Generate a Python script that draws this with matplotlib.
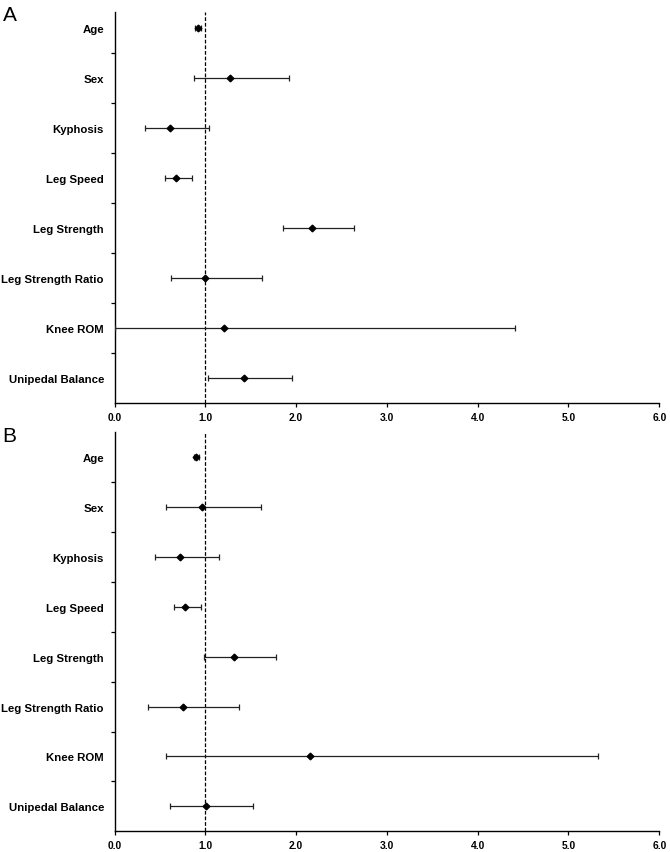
import numpy as np
import matplotlib
matplotlib.use('Agg')
import matplotlib.pyplot as plt
from matplotlib.ticker import FixedLocator

plt.rcParams['font.family'] = ['Liberation Sans', 'DejaVu Sans']

factors = ['Age', 'Sex', 'Kyphosis', 'Leg Speed', 'Leg Strength',
           'Leg Strength Ratio', 'Knee ROM', 'Unipedal Balance']

# odds ratio with lower / upper limits
or_a = [0.92, 1.27, 0.61, 0.68, 2.18, 1.00, 1.21, 1.43]
lo_a = [0.89, 0.88, 0.33, 0.55, 1.86, 0.62, 0.00, 1.03]
hi_a = [0.95, 1.92, 1.04, 0.85, 2.64, 1.62, 4.41, 1.95]

or_b = [0.90, 0.96, 0.72, 0.78, 1.32, 0.75, 2.15, 1.01]
lo_b = [0.87, 0.57, 0.44, 0.65, 0.99, 0.37, 0.57, 0.61]
hi_b = [0.93, 1.61, 1.15, 0.95, 1.78, 1.37, 5.33, 1.53]

xticks = [0, 1, 2, 3, 4, 5, 6]

fig = plt.figure(figsize=(6.7, 8.53), dpi=100)
ax_a = fig.add_axes([0.171, 0.5264, 0.813, 0.4586])
ax_b = fig.add_axes([0.171, 0.0243, 0.813, 0.4677])


def forest(ax, vals, lo, hi, ytop):
    y = np.arange(len(factors))
    v = np.array(vals)
    err = [v - np.array(lo), np.array(hi) - v]
    ax.axvline(1.0, color='black', linestyle=(0, (3, 1.5)), linewidth=0.9, zorder=1)
    ax.errorbar(v, y, xerr=err, fmt='D', color='black', markersize=3.4,
                ecolor='#222222', elinewidth=0.9, capsize=2.0, capthick=0.9, zorder=3)
    ax.set_xlim(0, 6)
    ax.set_ylim(len(factors) - 0.5, ytop)
    ax.set_xticks(xticks)
    ax.set_xticklabels(['%.1f' % t for t in xticks], fontsize=7.4, fontweight='bold')
    ax.set_yticks(y)
    ax.set_yticklabels(factors, fontsize=8.2, fontweight='bold')
    ax.yaxis.set_minor_locator(FixedLocator(np.arange(len(factors) - 1) + 0.5))
    ax.tick_params(axis='y', which='major', length=0, pad=7.7)
    ax.tick_params(axis='y', which='minor', length=3, width=0.9, direction='out')
    ax.tick_params(axis='x', length=3, width=0.9, pad=3.5)
    for s in ['top', 'right']:
        ax.spines[s].set_visible(False)
    for s in ['left', 'bottom']:
        ax.spines[s].set_linewidth(1.0)


forest(ax_a, or_a, lo_a, hi_a, -0.33)
forest(ax_b, or_b, lo_b, hi_b, -0.5)

fig.text(0.004, 0.9935, 'A', fontsize=15, va='top', ha='left')
fig.text(0.004, 0.4995, 'B', fontsize=15, va='top', ha='left')

fig.savefig('out.png', dpi=100)
